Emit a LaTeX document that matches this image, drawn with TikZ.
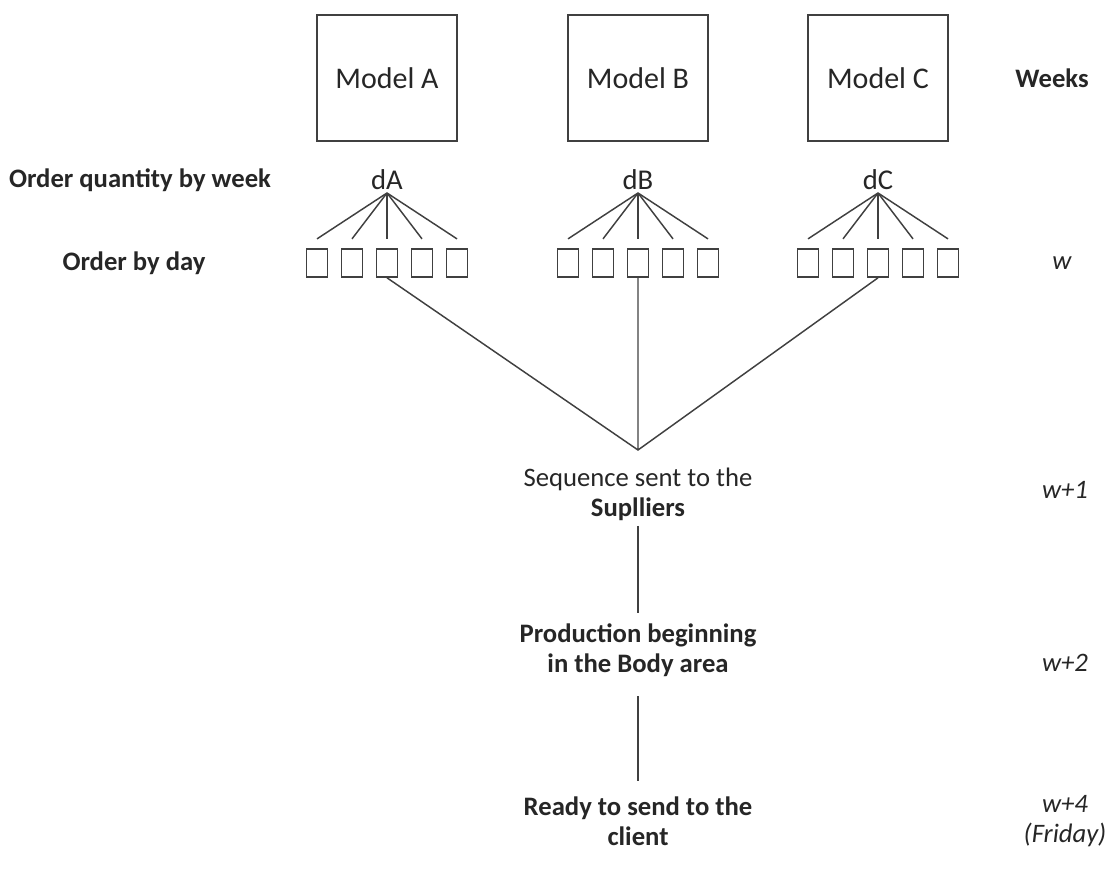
\documentclass[tikz,border=0pt]{standalone}
\usepackage{fontspec}
\setmainfont{Carlito}
\begin{document}
\begin{tikzpicture}[x=0.75pt,y=-0.75pt,
	txt/.style={text=black!85,font=\fontsize{20}{22.5}\selectfont,inner sep=2pt},
	model/.style={txt,font=\fontsize{22.5}{25}\selectfont,draw=black!75,line width=1.5pt,minimum width=105pt,minimum height=94pt},
	daybox/.style={draw=black!75,line width=1.2pt,minimum width=16pt,minimum height=21pt,inner sep=0pt},
	link/.style={draw=black!75,line width=1.1pt}]
	\useasboundingbox (0,0) rectangle (1110,883);
	% models and their days
	\foreach \m/\x in {A/387,B/638,C/878} {
	  \node[model] (m\m) at (\x,78) {Model \m};
	  \node[txt,font=\fontsize{21.5}{24}\selectfont] (d\m) at (\x,180) {d\m};
	  \foreach \i in {1,...,5} {
	    \node[daybox] (b\m\i) at ({\x+(\i-3)*35},263) {};
	    \draw[link] (d\m.south) -- ([yshift=7pt]b\m\i.north);
	  }
	}
	% row labels
	\node[txt,font=\fontsize{20}{22.5}\selectfont\bfseries] (qty) at (140,180) {Order quantity by week};
	\node[txt,font=\fontsize{20}{22.5}\selectfont\bfseries] (day) at (134,263) {Order by day};
	\node[txt,font=\fontsize{20}{22.5}\selectfont\bfseries] (weeks) at (1052,78) {Weeks};
	\node[txt,font=\fontsize{20}{22.5}\selectfont\itshape] (w0) at (1062,263) {w};
	\node[txt,font=\fontsize{20}{22.5}\selectfont\itshape] (w1) at (1065,490) {w+1};
	\node[txt,font=\fontsize{20}{22.5}\selectfont\itshape] (w2) at (1065,663) {w+2};
	\node[txt,font=\fontsize{20}{22.5}\selectfont\itshape,align=center] (w4) at (1065,821) {w+4\\(Friday)};
	% the steps
	\coordinate (join) at (638,450);
	\node[txt,align=center,inner sep=4pt] (seq) at (638,494) {Sequence sent to the\\\textbf{Suplliers}};
	\node[txt,align=center,font=\fontsize{20}{22.5}\selectfont\bfseries,inner sep=8pt] (prod) at (638,650) {Production beginning\\in the Body area};
	\node[txt,align=center,font=\fontsize{20}{22.5}\selectfont\bfseries,inner sep=8pt] (ready) at (638,821) {Ready to send to the\\client};
	\draw[link] (bA3.south) -- (join) -- (bC3.south)
	  (bB3.south) -- (join);
	\draw[link] (seq.south) -- (prod.north)
	  ([yshift=-6.75pt]prod.south) -- ([yshift=3.75pt]ready.north);
\end{tikzpicture}
\end{document}
